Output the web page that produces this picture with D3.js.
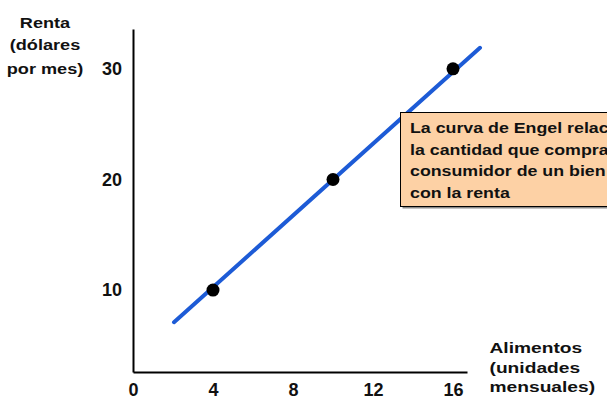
<!DOCTYPE html>
<html>
<head>
<meta charset="utf-8">
<script src="https://cdn.jsdelivr.net/npm/d3@7"></script>
<style>
  html, body { margin: 0; padding: 0; background: #fff; }
  svg { display: block; font-family: Arial, "Liberation Sans", Helvetica, sans-serif; font-weight: bold; }
</style>
</head>
<body>
<svg id="chart" width="607" height="399"></svg>
<script>
// Engel curve: income versus quantity of food bought
const xTicks = [0, 4, 8, 12, 16];          // food, monthly units
const yTicks = [10, 20, 30];               // income, dollars per month
const foodQty = [4, 10, 16];               // marked points (food)
const income = [10, 20, 30];               // marked points (income)
const curveFood = [2.05, 17.35];           // ends of the drawn Engel line
const curveIncome = [7.1, 31.9];

const yTitle = ["Renta", "(dólares", "por mes)"];
const xTitle = ["Alimentos", "(unidades", "mensuales)"];
const note = ["La curva de Engel relaciona", "la cantidad que compra el",
              "consumidor de un bien", "con la renta"];

const svg = d3.select("#chart");

const x = d3.scaleLinear().domain([0, 16.7]).range([133, 467]);
const y = d3.scaleLinear().domain([2.6, 33.6]).range([372, 29]);

// axes
const xAxis = svg.append("g")
  .attr("transform", `translate(0,${y(2.6)})`)
  .call(d3.axisBottom(x).tickValues(xTicks).tickSize(0).tickSizeOuter(0).tickPadding(11));
const yAxis = svg.append("g")
  .attr("transform", `translate(${x(0)},0)`)
  .call(d3.axisLeft(y).tickValues(yTicks).tickSize(0).tickSizeOuter(0).tickPadding(11));

[xAxis, yAxis].forEach(g => {
  g.select(".domain").attr("stroke", "#000").attr("stroke-width", 2);
  g.selectAll("text")
    .attr("font-family", "Arial, 'Liberation Sans', sans-serif")
    .attr("font-weight", "bold")
    .attr("font-size", 18)
    .attr("fill", "#111");
});

// Engel line
const curve = d3.line().x(d => x(d[0])).y(d => y(d[1]));
svg.append("path")
  .datum(d3.zip(curveFood, curveIncome))
  .attr("d", curve)
  .attr("fill", "none")
  .attr("stroke", "#1d5bd6")
  .attr("stroke-width", 4)
  .attr("stroke-linecap", "round");

// marked bundles
svg.append("g").selectAll("circle")
  .data(d3.zip(foodQty, income))
  .join("circle")
  .attr("cx", d => x(d[0]))
  .attr("cy", d => y(d[1]))
  .attr("r", 6.5)
  .attr("fill", "#000");

// horizontally widened multi-line label
function stretchedLines(lines, px, baselines, opts) {
  const g = svg.append("g");
  lines.forEach((t, i) => {
    g.append("text")
      .attr("transform", `translate(${px},${baselines[i]}) scale(${opts.sx},1)`)
      .attr("text-anchor", opts.anchor)
      .attr("font-size", opts.size)
      .attr("fill", "#111")
      .text(t);
  });
  return g;
}

stretchedLines(yTitle, 45, [27.5, 50, 73.5], { sx: 1.25, anchor: "middle", size: 14.5 });
stretchedLines(xTitle, 489.5, [353, 372.5, 392], { sx: 1.28, anchor: "start", size: 15 });

// annotation box
const boxTop = 112.5, boxLeft = 400.5, boxBottom = 206.5;
svg.append("rect")
  .attr("x", boxLeft + 2).attr("y", boxTop + 2)
  .attr("width", 260).attr("height", boxBottom - boxTop)
  .attr("fill", "#8a8a8a");
svg.append("rect")
  .attr("x", boxLeft).attr("y", boxTop)
  .attr("width", 260).attr("height", boxBottom - boxTop)
  .attr("fill", "#fdd1a5")
  .attr("stroke", "#000")
  .attr("stroke-width", 1);
stretchedLines(note, 410, [132.7, 154.5, 176, 197.5], { sx: 1.27, anchor: "start", size: 14 });
</script>
</body>
</html>
